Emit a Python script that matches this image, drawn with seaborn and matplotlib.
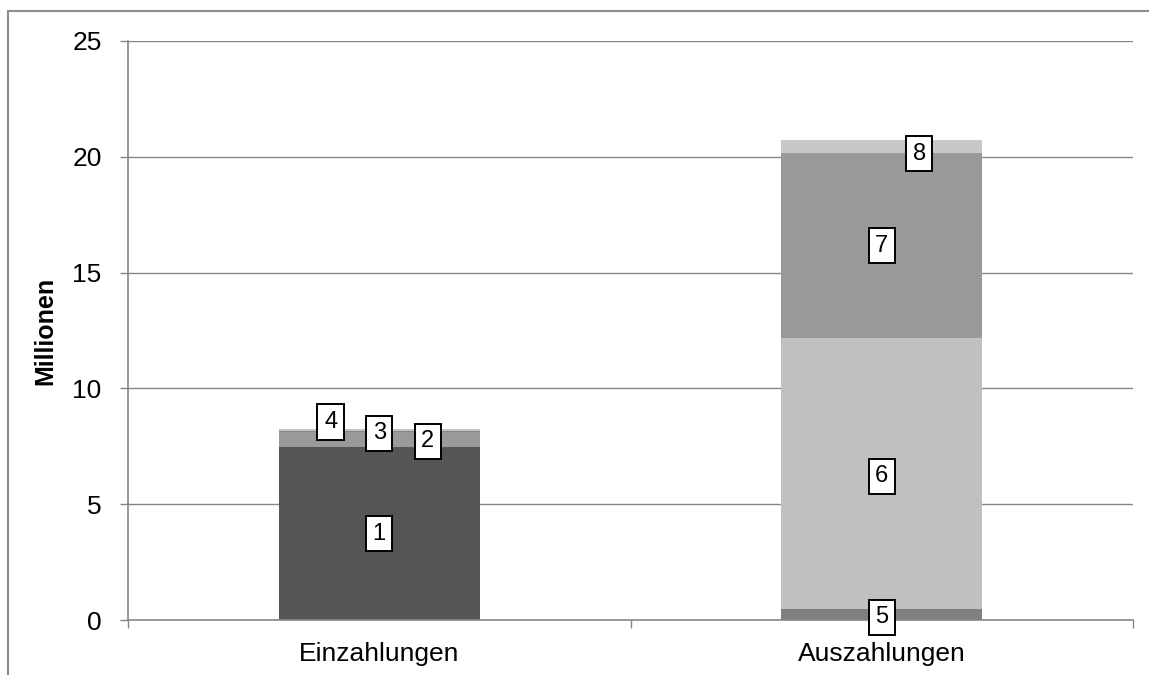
import matplotlib
matplotlib.use("Agg")
import matplotlib.pyplot as plt
from matplotlib.lines import Line2D
import seaborn as sns
import pandas as pd
import numpy as np

# Cash flow components (in millions), stacked per category
categories = ["Einzahlungen", "Auszahlungen"]
series_names = ["1", "2", "3", "4", "5", "6", "7", "8"]
einzahlungen = [7.45, 0.65, 0.05, 0.08, 0.0, 0.0, 0.0, 0.0]
auszahlungen = [0.0, 0.0, 0.0, 0.0, 0.47, 11.70, 7.98, 0.56]
colors = ["#555555", "#9a9a9a", "#858585", "#c4c4c4",
          "#808080", "#c0c0c0", "#999999", "#c8c8c8"]
y_ticks = [0, 5, 10, 15, 20, 25]

# Label nudges (points) so the small segment labels do not overlap
label_offsets = {"1": (0, 0), "2": (35, -1), "3": (0, -1), "4": (-35, 6),
                 "5": (0, -2), "6": (0, -2), "7": (0, 0), "8": (27, -5)}

rows = []
for cat, vals in zip(categories, [einzahlungen, auszahlungen]):
    cum = np.cumsum(vals)
    for name, v, c in zip(series_names, vals, cum):
        rows.append({"category": cat, "series": name, "value": v,
                     "cum": c, "mid": c - v / 2})
df = pd.DataFrame(rows)

sns.set_theme(style="white")
plt.rcParams["font.family"] = ["Liberation Sans", "DejaVu Sans"]
plt.rcParams["text.color"] = "black"
plt.rcParams["axes.labelcolor"] = "black"
plt.rcParams["xtick.labelcolor"] = "black"
plt.rcParams["ytick.labelcolor"] = "black"

fig = plt.figure(figsize=(11.49, 6.75), dpi=100)
ax = fig.add_axes([128 / 1149, 55 / 675, 1005 / 1149, 579 / 675])

grid_col = "#868686"
for yv in y_ticks[1:]:
    ax.axhline(yv, color=grid_col, lw=1.0, zorder=0)

# Stacked bars: draw cumulative totals from the top series down
for name, col in reversed(list(zip(series_names, colors))):
    sub = df[(df["series"] == name) & (df["value"] > 0)]
    sns.barplot(data=sub, x="category", y="cum", order=categories,
                color=col, saturation=1, width=0.4, errorbar=None,
                linewidth=0, ax=ax, zorder=2)

# Boxed series labels at segment centres
cat_pos = {c: i for i, c in enumerate(categories)}
for _, r in df[df["value"] > 0].iterrows():
    ax.annotate(r["series"], xy=(cat_pos[r["category"]], r["mid"]),
                xytext=label_offsets[r["series"]], textcoords="offset points",
                ha="center", va="center", fontsize=17, color="black", zorder=5,
                bbox=dict(boxstyle="square,pad=0.28", fc="white", ec="black", lw=1.4))

ax.set_xlim(-0.5, 1.5)
ax.set_ylim(0, 25)
ax.set_yticks(y_ticks)
ax.set_yticklabels([str(t) for t in y_ticks], fontsize=19)
ax.set_xticks([0, 1])
ax.set_xticklabels(categories, fontsize=19)
ax.set_xticks([-0.5, 0.5, 1.5], minor=True)
ax.tick_params(axis="y", which="major", left=True, length=6, width=1,
               color=grid_col, pad=13)
ax.tick_params(axis="x", which="major", bottom=False, pad=10)
ax.tick_params(axis="x", which="minor", bottom=True, length=6, width=1,
               color=grid_col)
ax.set_xlabel("")
ax.set_ylabel("Millionen", fontsize=18, fontweight="bold")
ax.yaxis.set_label_coords(-0.07, 0.5)

for side in ["top", "right"]:
    ax.spines[side].set_visible(False)
for side in ["left", "bottom"]:
    ax.spines[side].set_color(grid_col)
    ax.spines[side].set_linewidth(1.2)

# Outer chart-area frame (left and top edges)
frame_col = "#8c8c8c"
fig.add_artist(Line2D([8 / 1149, 8 / 1149], [0, 1 - 11 / 675],
                      transform=fig.transFigure, color=frame_col, lw=1.5))
fig.add_artist(Line2D([8 / 1149, 1], [1 - 11 / 675, 1 - 11 / 675],
                      transform=fig.transFigure, color=frame_col, lw=1.5))

fig.savefig("out.png", dpi=100)
